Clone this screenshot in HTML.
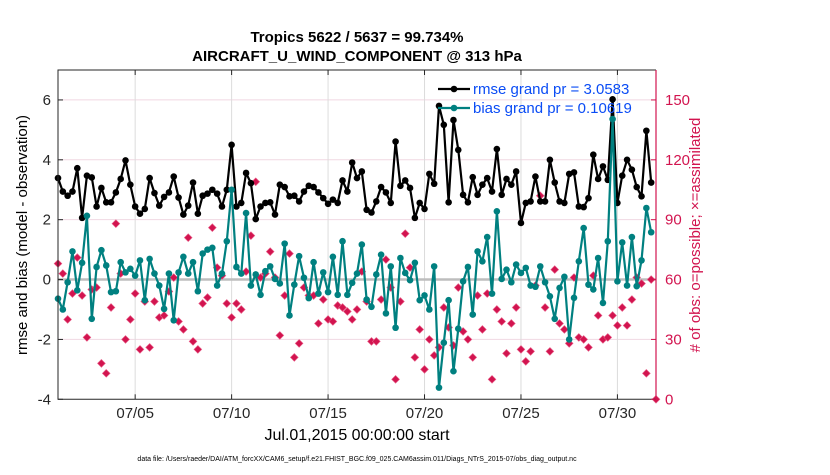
<!DOCTYPE html>
<html><head><meta charset="utf-8">
<style>
body{margin:0;background:#fff;width:830px;height:470px;overflow:hidden;font-family:"Liberation Sans",Arial,sans-serif}
svg text{font-family:"Liberation Sans",Arial,sans-serif}
</style></head>
<body>
<svg id="chart" width="830" height="470" viewBox="0 0 830 470" xmlns="http://www.w3.org/2000/svg">
<text x="357" y="42" text-anchor="middle" font-size="15" font-weight="bold">Tropics 5622 / 5637 = 99.734%</text>
<text x="357" y="61" text-anchor="middle" font-size="15" font-weight="bold">AIRCRAFT_U_WIND_COMPONENT @ 313 hPa</text>
<g id="grid"></g>
<g id="marks"></g>
<g id="axes"></g>
<text transform="translate(27,235) rotate(-90)" text-anchor="middle" font-size="15">rmse and bias (model - observation)</text>
<text transform="translate(700,235) rotate(-90)" text-anchor="middle" font-size="15" fill="#d2144f"># of obs: o=possible; ×=assimilated</text>
<text x="357" y="440" text-anchor="middle" font-size="16">Jul.01,2015 00:00:00 start</text>
<text x="357" y="461" text-anchor="middle" font-size="7">data file: /Users/raeder/DAI/ATM_forcXX/CAM6_setup/f.e21.FHIST_BGC.f09_025.CAM6assim.011/Diags_NTrS_2015-07/obs_diag_output.nc</text>
<g id="legend"></g>
</svg>
<script>
var NS="http://www.w3.org/2000/svg";
var xTickLabels=["07/05","07/10","07/15","07/20","07/25","07/30"];
var xTickDays=[4,9,14,19,24,29];
var yTicks=[-4,-2,0,2,4,6];
var y2Ticks=[0,30,60,90,120,150];
var rmse=[3.39,2.94,2.8,2.94,3.72,2.06,3.47,3.41,2.44,3.06,2.58,2.58,2.91,3.36,3.98,3.17,2.44,2.2,2.36,3.39,2.89,2.47,2.76,2.91,3.44,2.74,2.17,2.47,3.24,2.2,2.8,
2.87,3.0,2.87,2.44,3.0,4.5,2.44,2.56,3.56,3.22,2.02,2.44,2.56,2.58,2.17,3.17,3.09,2.78,2.8,2.61,2.94,3.13,3.09,2.91,2.72,2.53,2.67,2.56,3.31,2.94,
3.91,3.39,3.61,2.33,2.24,2.61,3.09,2.91,2.56,4.61,3.13,3.31,3.06,2.06,2.56,2.36,3.53,3.2,5.8,5.17,2.58,5.33,4.33,2.83,2.58,3.42,2.83,3.17,3.39,2.94,
4.36,2.83,3.36,3.17,3.61,1.89,2.56,2.61,3.44,2.61,2.61,4.0,3.24,2.61,2.56,3.53,3.58,2.44,2.42,2.72,4.17,3.36,3.78,3.33,6.02,2.56,3.47,4.0,3.67,3.09,2.78,4.97,3.24];
var bias=[-0.64,-1.0,-0.09,0.94,-0.36,0.56,2.13,-1.31,0.42,0.98,0.47,-0.42,-0.39,0.58,0.24,0.36,0.13,0.64,-0.69,0.69,0.2,-0.2,-0.98,0.2,-1.36,0.24,0.76,0.2,0.58,-0.39,0.87,
1.0,1.06,-0.2,0.2,1.28,3.0,0.42,0.2,2.22,-0.2,0.17,-0.51,0.28,0.44,0.02,-0.13,1.2,-1.2,-0.17,0.78,0.06,-0.62,0.58,-0.47,0.24,-0.42,0.76,-0.51,1.28,-0.51,
-0.11,0.2,1.17,-0.67,-0.91,0.17,0.83,-1.13,0.44,-1.61,0.72,0.22,-0.02,0.56,-0.69,-0.53,-1.0,0.44,-3.61,-2.11,-0.69,-3.06,-1.64,-0.06,0.42,-1.17,0.94,0.61,1.42,-0.47,
2.28,0.02,0.33,-0.09,0.5,0.22,0.39,-0.2,-0.24,0.44,-0.09,-0.56,-1.31,-0.28,0.09,-2.0,-0.61,0.61,1.72,-0.17,-0.33,0.72,-0.78,1.28,5.36,-0.06,1.24,-0.2,1.42,-0.22,0.64,2.39,1.58];
var nobs=[68,63,40,53,71,52,31,55,56,18,13,46,88,63,30,40,53,25,49,26,49,41,42,54,61,39,35,81,29,25,48,
51,86,66,62,48,41,48,45,64,82,109,61,63,74,61,32,52,73,21,28,56,52,52,38,50,40,39,47,46,44,
40,45,64,49,29,29,50,70,56,10,49,83,66,21,35,15,30,22,26,46,36,27,56,34,30,21,52,35,53,10,
45,39,23,38,46,25,19,24,57,102,46,24,65,38,35,28,61,31,30,26,62,42,30,31,42,37,46,37,50,61,58,13,60,0];
var X0=58,X1=656,Y0=399.3,Y1=70;
function xs(d){return X0+(d/31)*(X1-X0);}
function ys(v){return Y0-(v+4)/11*(Y0-Y1);}
function y2s(v){return Y0-v/165*(Y0-Y1);}
function tAt(i){return i*0.25;}
function mk(tag,attrs,parent){var e=document.createElementNS(NS,tag);for(var k in attrs)e.setAttribute(k,attrs[k]);parent.appendChild(e);return e;}
var grid=document.getElementById('grid'),marks=document.getElementById('marks'),axes=document.getElementById('axes'),legend=document.getElementById('legend');
yTicks.forEach(function(v){if(v===-4)return;var l=mk('line',{x1:X0,x2:X1,y1:ys(v),y2:ys(v),stroke:'#f1d8e2','stroke-width':1},grid);

});
xTickDays.forEach(function(d){var l=mk('line',{x1:xs(d),x2:xs(d),y1:Y1,y2:Y0,stroke:'#dcdcdc','stroke-width':1},grid);

});
var z=mk('line',{x1:X0,x2:X1,y1:ys(0),y2:ys(0),stroke:'#bdbdbd','stroke-width':2.5},grid);


nobs.forEach(function(v,i){var cx=xs(tAt(i)),cy=y2s(v),r=3.9;
var g=mk('path',{d:'M'+cx+' '+(cy-r)+'L'+(cx+r)+' '+cy+'L'+cx+' '+(cy+r)+'L'+(cx-r)+' '+cy+'Z',fill:'#d2144f',stroke:'#e8608a','stroke-width':0.6},marks);

});
function series(arr,color,name){var d='';arr.forEach(function(v,i){d+=(i?'L':'M')+xs(tAt(i)).toFixed(1)+' '+ys(v).toFixed(1);});
var p=mk('path',{d:d,fill:'none',stroke:color,'stroke-width':2.2,'stroke-linejoin':'round'},marks);


arr.forEach(function(v,i){var c=mk('circle',{cx:xs(tAt(i)),cy:ys(v),r:3.3,fill:color},marks);

});}
series(rmse,'#000','rmse');
series(bias,'#008080','bias');
var fr=mk('path',{d:'M'+X1+' '+Y1+'L'+X0+' '+Y1+'L'+X0+' '+Y0+'L'+X1+' '+Y0,fill:'none',stroke:'#262626','stroke-width':1},axes);


var ra=mk('line',{x1:X1,x2:X1,y1:Y1,y2:Y0,stroke:'#d2144f','stroke-width':1.2},axes);


yTicks.forEach(function(v){mk('line',{x1:X0,x2:X0+5,y1:ys(v),y2:ys(v),stroke:'#262626'},axes);
var t=mk('text',{x:X0-7,y:ys(v)+5,'text-anchor':'end','font-size':15,fill:'#262626'},axes);t.textContent=v;

});
y2Ticks.forEach(function(v){mk('line',{x1:X1-5,x2:X1,y1:y2s(v),y2:y2s(v),stroke:'#d2144f'},axes);
var t=mk('text',{x:X1+9,y:y2s(v)+5,'text-anchor':'start','font-size':15,fill:'#d2144f'},axes);t.textContent=v;

});
xTickDays.forEach(function(d,i){mk('line',{x1:xs(d),x2:xs(d),y1:Y0,y2:Y0-5,stroke:'#262626'},axes);mk('line',{x1:xs(d),x2:xs(d),y1:Y1,y2:Y1+5,stroke:'#262626'},axes);
var t=mk('text',{x:xs(d),y:418,'text-anchor':'middle','font-size':15,fill:'#262626'},axes);t.textContent=xTickLabels[i];

});
[['rmse grand pr = 3.0583','#000',89],['bias grand pr = 0.10619','#008080',108]].forEach(function(e,i){
mk('line',{x1:438,x2:470,y1:e[2],y2:e[2],stroke:e[1],'stroke-width':2.2},legend);
mk('circle',{cx:454,cy:e[2],r:3.3,fill:e[1]},legend);
var t=mk('text',{x:473,y:e[2]+5,'font-size':15,fill:'#0a4cf5'},legend);t.textContent=e[0];

});
</script>
</body></html>
